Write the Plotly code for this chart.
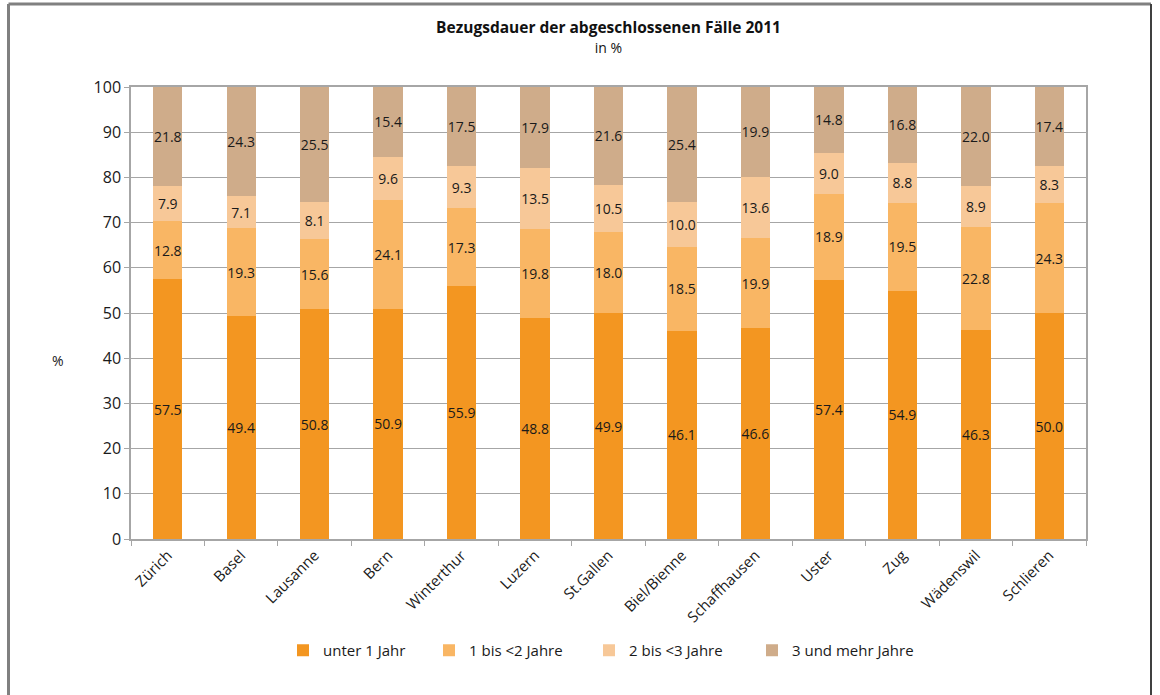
import plotly.graph_objects as go

categories = ["Zürich", "Basel", "Lausanne", "Bern", "Winterthur", "Luzern", "St.Gallen",
              "Biel/Bienne", "Schaffhausen", "Uster", "Zug", "Wädenswil", "Schlieren"]
series_names = ["unter 1 Jahr", "1 bis <2 Jahre", "2 bis <3 Jahre", "3 und mehr Jahre"]
unter_1 = [57.5, 49.4, 50.8, 50.9, 55.9, 48.8, 49.9, 46.1, 46.6, 57.4, 54.9, 46.3, 50.0]
bis_2 = [12.8, 19.3, 15.6, 24.1, 17.3, 19.8, 18.0, 18.5, 19.9, 18.9, 19.5, 22.8, 24.3]
bis_3 = [7.9, 7.1, 8.1, 9.6, 9.3, 13.5, 10.5, 10.0, 13.6, 9.0, 8.8, 8.9, 8.3]
mehr_3 = [21.8, 24.3, 25.5, 15.4, 17.5, 17.9, 21.6, 25.4, 19.9, 14.8, 16.8, 22.0, 17.4]
y_ticks = [0, 10, 20, 30, 40, 50, 60, 70, 80, 90, 100]

colors = ["#F39621", "#F9B664", "#F7C898", "#CFAC8A"]
FONT = "Open Sans"

W, H = 1160, 695
ML, MR, MT, MB = 131, 74, 87, 156
PW, PH = W - ML - MR, H - MT - MB

def px_x(x):
    return (x - ML) / PW

def px_y(y):
    return (H - MB - y) / PH

legend_ids = ["legend", "legend2", "legend3", "legend4"]
legend_marker_x = [302, 448, 608, 771]

fig = go.Figure()
for name, vals, col, lid in zip(series_names, [unter_1, bis_2, bis_3, mehr_3], colors, legend_ids):
    fig.add_trace(go.Bar(
        x=categories, y=vals, name=name, legend=lid,
        marker=dict(color=col, line=dict(width=0)),
        texttemplate="%{y:.1f}", textposition="inside", insidetextanchor="middle",
        textangle=0, constraintext="none",
        textfont=dict(family=FONT, size=14, color="#1a1a1a"),
        width=0.4,
    ))

legends = {}
for lid, mx in zip(legend_ids, legend_marker_x):
    legends[lid] = dict(
        orientation="h", x=px_x(mx - 19), xanchor="left", y=px_y(634), yanchor="top",
        font=dict(family=FONT, size=15, color="#1a1a1a"),
        itemwidth=30, bgcolor="rgba(0,0,0,0)",
    )

fig.update_layout(
    barmode="stack",
    width=W, height=H,
    margin=dict(l=ML, r=MR, t=MT, b=MB, autoexpand=False),
    paper_bgcolor="white", plot_bgcolor="white",
    font=dict(family=FONT, size=15, color="#1a1a1a"),
    title=dict(
        text="<b>Bezugsdauer der abgeschlossenen Fälle 2011</b><br><span style='font-size:14px'>in %</span>",
        x=(ML + (W - MR)) / 2 / W, xanchor="center", y=0.953, yanchor="top",
        font=dict(family=FONT, size=15.5, color="#111111"),
    ),
    showlegend=True,
    **legends,
)
fig.update_xaxes(
    tickangle=-45, showline=True, linecolor="#A6A6A6", linewidth=1.5,
    mirror=True, ticks="outside", tickson="boundaries", ticklen=5, tickcolor="#A6A6A6",
    tickfont=dict(family=FONT, size=15, color="#1a1a1a"), showgrid=False,
)
fig.update_yaxes(
    range=[0, 100], tickvals=y_ticks, showline=True, linecolor="#A6A6A6", linewidth=1.5,
    mirror=True, ticks="outside", ticklen=5, tickcolor="#A6A6A6",
    showgrid=True, gridcolor="#A6A6A6", gridwidth=1,
    tickfont=dict(family=FONT, size=16, color="#1a1a1a"),
)
fig.add_annotation(text="%", xref="paper", yref="paper", x=px_x(58), y=px_y(360),
                   showarrow=False, xanchor="center", yanchor="middle",
                   font=dict(family=FONT, size=14, color="#1a1a1a"))

# outer frame (left, top, right)
x0, x1 = px_x(8.5), px_x(1151)
ytop, ybot = px_y(4), px_y(H + 5)
fig.add_shape(type="line", xref="paper", yref="paper", x0=x0, x1=x0, y0=ybot, y1=ytop,
              line=dict(color="#808080", width=3))
fig.add_shape(type="line", xref="paper", yref="paper", x0=x0, x1=x1, y0=ytop, y1=ytop,
              line=dict(color="#808080", width=3))
fig.add_shape(type="line", xref="paper", yref="paper", x0=x1, x1=x1, y0=ybot, y1=ytop,
              line=dict(color="#404040", width=2))

fig.write_html("out.html", config={"displayModeBar": False},
               post_script="document.body.style.margin='0';document.body.style.overflow='hidden';")
